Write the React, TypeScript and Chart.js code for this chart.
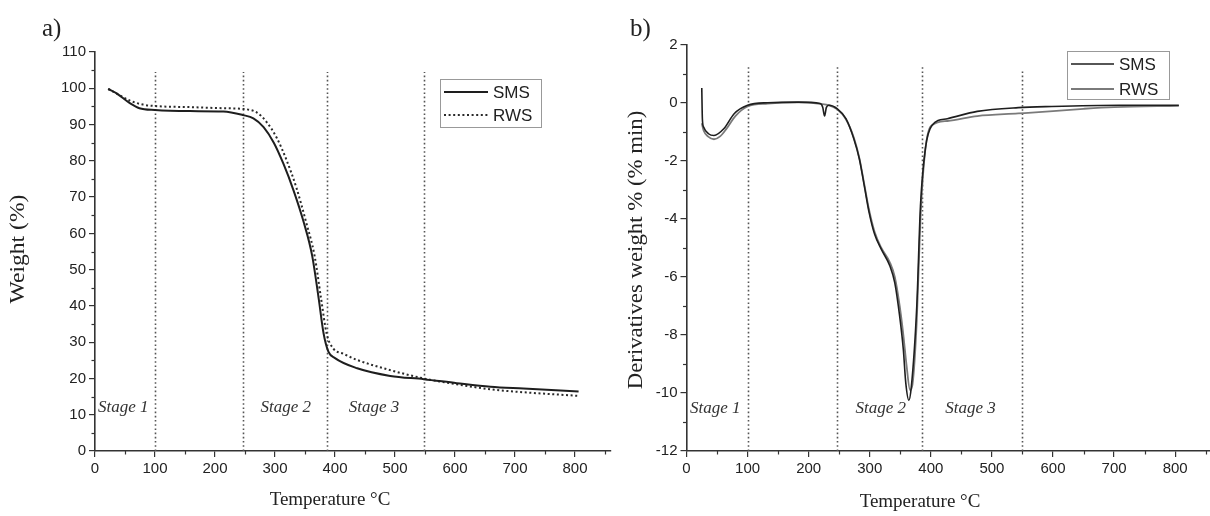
import React, { useEffect, useRef } from "react";
import { Chart, registerables } from "chart.js";

Chart.register(...registerables);

// ---------- Data ----------
// a) TG curves: Temperature (°C) vs Weight (%)
const tgSmsTemp = [22, 36, 58, 74, 100, 158, 214, 247, 264, 281, 298, 314, 331, 348, 362, 373, 381, 389, 400, 437, 492, 548, 603, 659, 714, 806];
const tgSmsWeight = [99.8, 98.6, 95.9, 94.5, 94.0, 93.7, 93.6, 92.6, 91.7, 89.3, 85.0, 79.2, 71.8, 63.0, 53.8, 41.8, 32.4, 27.4, 25.6, 22.8, 20.7, 19.8, 18.7, 17.7, 17.2, 16.4];
const tgRwsTemp = [22, 40, 58, 80, 100, 158, 214, 247, 270, 286, 303, 319, 336, 352, 366, 377, 386, 397, 414, 437, 492, 548, 603, 659, 714, 806];
const tgRwsWeight = [99.8, 98.2, 96.6, 95.5, 95.1, 94.8, 94.5, 94.3, 93.3, 90.7, 86.3, 80.3, 72.4, 63.0, 53.8, 41.8, 32.4, 28.3, 26.8, 25.1, 22.3, 20.0, 18.4, 17.0, 16.2, 15.2];

// b) DTG curves: Temperature (°C) vs Derivative weight (% min)
const dtgSmsTemp = [25, 26, 28, 36, 45, 61, 78, 100, 133, 183, 219, 223, 226, 229, 233, 247, 261, 274, 283, 291, 299, 308, 319, 333, 341, 349, 355, 359, 364, 368, 377, 383, 391, 402, 427, 476, 543, 598, 709, 806];
const dtgSmsDeriv = [0.52, -0.55, -0.83, -1.06, -1.12, -0.89, -0.37, -0.08, 0.01, 0.03, -0.02, -0.15, -0.45, -0.15, -0.08, -0.2, -0.54, -1.24, -1.93, -2.85, -3.78, -4.53, -5.05, -5.62, -6.2, -7.36, -8.51, -9.66, -10.25, -9.8, -7.0, -3.55, -1.58, -0.77, -0.54, -0.29, -0.16, -0.12, -0.08, -0.08];
const dtgRwsTemp = [25, 28, 35, 45, 55, 65, 80, 100, 133, 183, 219, 233, 247, 261, 274, 283, 291, 299, 308, 319, 333, 341, 349, 355, 360, 366, 370, 377, 383, 390, 400, 427, 476, 543, 600, 650, 700, 806];
const dtgRwsDeriv = [-0.7, -0.95, -1.15, -1.25, -1.15, -0.9, -0.45, -0.12, -0.02, 0.02, -0.03, -0.07, -0.22, -0.56, -1.2, -1.9, -2.8, -3.7, -4.45, -5.0, -5.5, -6.0, -7.0, -8.0, -9.0, -9.9, -9.7, -7.5, -4.0, -1.8, -0.8, -0.62, -0.45, -0.36, -0.28, -0.2, -0.14, -0.1];

// Axis ticks
const xMajorTicks = [0, 100, 200, 300, 400, 500, 600, 700, 800];
const xMinorTicks = [50, 150, 250, 350, 450, 550, 650, 750, 850];
const tgYMajorTicks = [0, 10, 20, 30, 40, 50, 60, 70, 80, 90, 100, 110];
const tgYMinorTicks = [5, 15, 25, 35, 45, 55, 65, 75, 85, 95, 105];
const dtgYMajorTicks = [-12, -10, -8, -6, -4, -2, 0, 2];
const dtgYMinorTicks = [-11, -9, -7, -5, -3, -1, 1];

// Stage annotations
const stageBoundaries = [100, 247, 386, 549];
const stageLabels = ["Stage 1", "Stage 2", "Stage 3"];
const stageLabelTemps = [47, 318, 465];
const seriesNames = ["SMS", "RWS"];

const toPoints = (xs: number[], ys: number[]) => xs.map((x, i) => ({ x, y: ys[i] }));

const decorPlugin = {
  id: "decor",
  beforeDatasetsDraw(chart: any, _args: any, o: any) {
    const { ctx, scales } = chart;
    const x = scales.x;
    const y = scales.y;
    ctx.save();
    ctx.strokeStyle = "#555";
    ctx.lineWidth = 1.6;
    ctx.setLineDash([1.6, 2.6]);
    o.boundaries.forEach((b: number, i: number) => {
      const px = Math.round(x.getPixelForValue(b)) + 0.5;
      ctx.beginPath();
      ctx.moveTo(px, y.getPixelForValue(o.yMin));
      ctx.lineTo(px, y.getPixelForValue(o.lineTops[i]));
      ctx.stroke();
    });
    ctx.restore();
  },
  afterDraw(chart: any, _args: any, o: any) {
    const { ctx, chartArea, scales } = chart;
    const x = scales.x;
    const y = scales.y;
    ctx.save();
    // minor ticks
    ctx.strokeStyle = "#333";
    ctx.lineWidth = 1.2;
    o.xMinor.forEach((v: number) => {
      if (v > x.max) return;
      const px = Math.round(x.getPixelForValue(v)) + 0.5;
      ctx.beginPath();
      ctx.moveTo(px, chartArea.bottom);
      ctx.lineTo(px, chartArea.bottom + 3.5);
      ctx.stroke();
    });
    o.yMinor.forEach((v: number) => {
      const py = Math.round(y.getPixelForValue(v)) + 0.5;
      ctx.beginPath();
      ctx.moveTo(chartArea.left - 3.5, py);
      ctx.lineTo(chartArea.left, py);
      ctx.stroke();
    });

    // stage labels
    ctx.fillStyle = "#333";
    ctx.font = 'italic 17px "Liberation Serif", serif';
    ctx.textAlign = "center";
    ctx.textBaseline = "middle";
    o.stageLabels.forEach((s: string, i: number) => {
      ctx.fillText(s, x.getPixelForValue(o.stageX[i]), y.getPixelForValue(o.stageY));
    });

    // legend
    const L = o.legend;
    ctx.strokeStyle = "#999";
    ctx.lineWidth = 1;
    ctx.setLineDash([]);
    ctx.strokeRect(L.x + 0.5, L.y + 0.5, L.w, L.h);
    L.items.forEach((it: any, i: number) => {
      const yy = L.y + L.rowY[i];
      ctx.strokeStyle = it.color;
      ctx.lineWidth = it.width;
      ctx.setLineDash(it.dash || []);
      ctx.beginPath();
      ctx.moveTo(L.x + 4, yy);
      ctx.lineTo(L.x + L.lineLen + 4, yy);
      ctx.stroke();
      ctx.setLineDash([]);
      ctx.fillStyle = "#222";
      ctx.font = '17px "Liberation Sans", Arial, sans-serif';
      ctx.textAlign = "left";
      ctx.textBaseline = "middle";
      ctx.fillText(it.label, L.x + L.lineLen + 9, yy + 1);
    });

    // axis titles
    ctx.fillStyle = "#222";
    ctx.font = '19px "Liberation Serif", serif';
    ctx.textAlign = "center";
    ctx.textBaseline = "middle";
    ctx.fillText(o.xTitle, o.xTitlePos[0], o.xTitlePos[1]);
    ctx.save();
    ctx.translate(o.yTitlePos[0], o.yTitlePos[1]);
    ctx.rotate(-Math.PI / 2);
    ctx.scale(o.yTitleStretch, 1);
    ctx.font = '20px "Liberation Serif", serif';
    ctx.fillText(o.yTitle, 0, 0);
    ctx.restore();

    // panel label
    ctx.font = '25px "Liberation Serif", serif';
    ctx.textAlign = "left";
    ctx.textBaseline = "alphabetic";
    ctx.fillText(o.panel, o.panelPos[0], o.panelPos[1]);
    ctx.restore();
  },
};

function makeScales(xMax: number, yMin: number, yMax: number, yTicks: number[], yWidth: number) {
  const tickFont = { family: '"Liberation Sans", Arial, sans-serif', size: 15 };
  return {
    x: {
      type: "linear",
      min: 0,
      max: xMax,
      afterBuildTicks: (s: any) => {
        s.ticks = xMajorTicks.map((v) => ({ value: v }));
      },
      afterFit: (s: any) => {
        s.height = 40;
      },
      grid: { display: true, drawOnChartArea: false, drawTicks: true, tickLength: 6, color: "#333", lineWidth: 1.2 },
      border: { display: true, color: "#333", width: 1.6 },
      ticks: { font: tickFont, color: "#222", padding: 3, maxRotation: 0, autoSkip: false },
    },
    y: {
      type: "linear",
      min: yMin,
      max: yMax,
      afterBuildTicks: (s: any) => {
        s.ticks = yTicks.map((v) => ({ value: v }));
      },
      afterFit: (s: any) => {
        s.width = yWidth;
      },
      grid: { display: true, drawOnChartArea: false, drawTicks: true, tickLength: 6, color: "#333", lineWidth: 1.2 },
      border: { display: true, color: "#333", width: 1.6 },
      ticks: { font: tickFont, color: "#222", padding: 3, autoSkip: false },
    },
  };
}

export default function App() {
  const leftRef = useRef<HTMLCanvasElement>(null);
  const rightRef = useRef<HTMLCanvasElement>(null);

  useEffect(() => {
    const left = new Chart(leftRef.current as HTMLCanvasElement, {
      type: "line",
      data: {
        datasets: [
          {
            label: seriesNames[0],
            data: toPoints(tgSmsTemp, tgSmsWeight),
            borderColor: "#1e1e1e",
            borderWidth: 2,
            pointRadius: 0,
            cubicInterpolationMode: "monotone",
            fill: false,
          },
          {
            label: seriesNames[1],
            data: toPoints(tgRwsTemp, tgRwsWeight),
            borderColor: "#2a2a2a",
            borderWidth: 2,
            borderDash: [2, 2.6],
            pointRadius: 0,
            cubicInterpolationMode: "monotone",
            fill: false,
          },
        ],
      },
      options: {
        animation: false,
        responsive: false,
        devicePixelRatio: 1,
        layout: { padding: { left: 40, right: 9, top: 52, bottom: 25 } },
        plugins: {
          legend: { display: false },
          tooltip: { enabled: false },
          decor: {
            boundaries: stageBoundaries,
            lineTops: [104.5, 104.5, 104.5, 104.5],
            yMin: 0,
            xMinor: xMinorTicks,
            yMinor: tgYMinorTicks,
            stageLabels,
            stageX: stageLabelTemps,
            stageY: 12.1,
            legend: {
              x: 440,
              y: 79,
              w: 101,
              h: 48,
              lineLen: 44,
              rowY: [13, 36],
              items: [
                { label: seriesNames[0], color: "#1e1e1e", width: 2 },
                { label: seriesNames[1], color: "#2a2a2a", width: 2, dash: [2, 2.6] },
              ],
            },
            xTitle: "Temperature °C",
            xTitlePos: [330, 500],
            yTitle: "Weight (%)",
            yTitlePos: [19, 249],
            yTitleStretch: 1.18,
            panel: "a)",
            panelPos: [42, 36],
          },
        } as any,
        scales: makeScales(860, 0, 110, tgYMajorTicks, 55) as any,
      },
      plugins: [decorPlugin],
    } as any);

    const right = new Chart(rightRef.current as HTMLCanvasElement, {
      type: "line",
      data: {
        datasets: [
          {
            label: seriesNames[0],
            data: toPoints(dtgSmsTemp, dtgSmsDeriv),
            borderColor: "#1e1e1e",
            borderWidth: 1.6,
            pointRadius: 0,
            cubicInterpolationMode: "monotone",
            fill: false,
          },
          {
            label: seriesNames[1],
            data: toPoints(dtgRwsTemp, dtgRwsDeriv),
            borderColor: "#7a7a7a",
            borderWidth: 1.8,
            pointRadius: 0,
            cubicInterpolationMode: "monotone",
            fill: false,
          },
        ],
      },
      options: {
        animation: false,
        responsive: false,
        devicePixelRatio: 1,
        layout: { padding: { left: 16.5, right: 0, top: 45, bottom: 25 } },
        plugins: {
          legend: { display: false },
          tooltip: { enabled: false },
          decor: {
            boundaries: stageBoundaries,
            lineTops: [1.3, 1.3, 1.3, 1.17],
            yMin: -12,
            xMinor: xMinorTicks,
            yMinor: dtgYMinorTicks,
            stageLabels,
            stageX: stageLabelTemps,
            stageY: -10.55,
            legend: {
              x: 447,
              y: 51,
              w: 102,
              h: 48,
              lineLen: 43,
              rowY: [13, 38],
              items: [
                { label: seriesNames[0], color: "#1e1e1e", width: 1.6 },
                { label: seriesNames[1], color: "#7a7a7a", width: 1.8 },
              ],
            },
            xTitle: "Temperature °C",
            xTitlePos: [300, 502],
            yTitle: "Derivatives weight % (% min)",
            yTitlePos: [17, 250],
            yTitleStretch: 1.14,
            panel: "b)",
            panelPos: [10, 36],
          },
        } as any,
        scales: makeScales(857, -12, 2, dtgYMajorTicks, 50) as any,
      },
      plugins: [decorPlugin],
    } as any);

    return () => {
      left.destroy();
      right.destroy();
    };
  }, []);

  return (
    <div style={{ position: "absolute", left: 0, top: 0, width: 1210, height: 516, background: "#fff", overflow: "hidden" }}>
      <canvas ref={leftRef} width={620} height={516} style={{ position: "absolute", left: 0, top: 0, width: 620, height: 516 }} />
      <canvas ref={rightRef} width={590} height={516} style={{ position: "absolute", left: 620, top: 0, width: 590, height: 516 }} />
    </div>
  );
}
